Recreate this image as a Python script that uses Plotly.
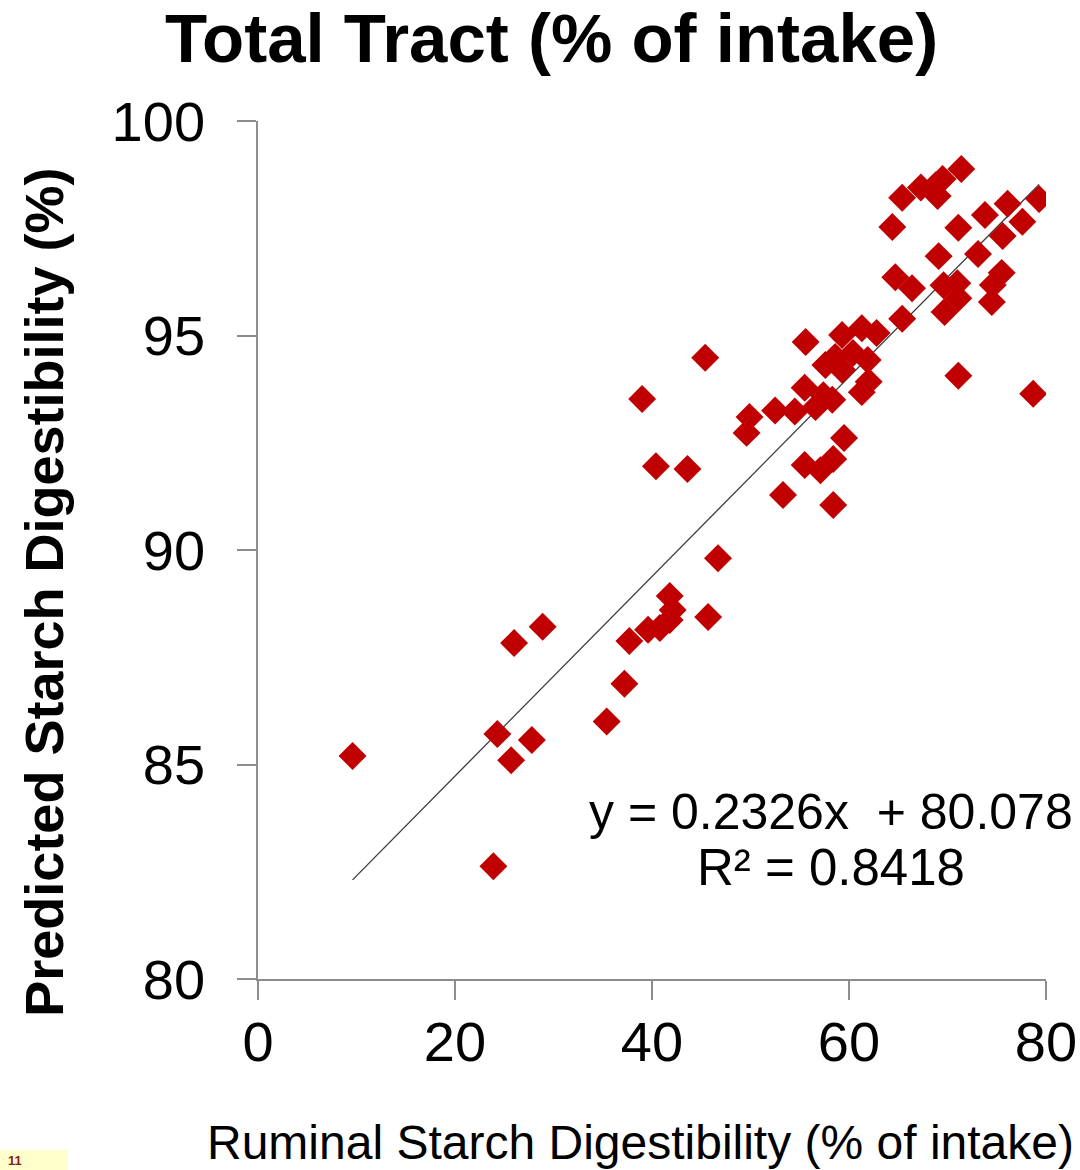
import plotly.graph_objects as go

# Ruminal vs. predicted total-tract starch digestibility (% of intake)
ruminal = [
    9.6, 24.3, 23.9, 25.7, 27.8, 26.0, 28.9, 35.4, 37.2, 37.7,
    39.6, 40.8, 41.8, 42.1, 41.8, 45.7, 46.7, 40.4, 43.6, 39.0,
    45.4, 49.9, 49.6, 52.5, 54.5, 55.5, 56.6, 57.4, 58.3, 55.6,
    57.6, 58.6, 59.3, 60.4, 59.3, 61.3, 62.8, 61.9, 62.0, 61.3,
    59.5, 55.5, 57.1, 58.4, 53.3, 58.4, 65.4, 64.4, 65.4, 67.3,
    68.8, 69.5, 69.0, 71.4, 71.1, 73.8, 76.1, 79.3, 77.6, 75.6,
    69.1, 73.1, 64.7, 66.4, 75.5, 74.6, 74.5, 69.6, 71.0, 71.1,
    69.7, 71.1, 78.7,
]
predicted = [
    85.20, 85.71, 82.63, 85.10, 85.57, 87.83, 88.21, 86.00, 86.88, 87.88,
    88.14, 88.18, 88.37, 88.60, 88.93, 88.44, 89.81, 91.95, 91.89, 93.52,
    94.48, 93.10, 92.73, 93.25, 93.23, 93.78, 93.33, 93.61, 93.50, 94.85,
    94.31, 94.50, 94.20, 94.59, 95.01, 95.17, 95.06, 94.43, 93.92, 93.68,
    92.61, 91.98, 91.86, 92.12, 91.28, 91.05, 95.39, 97.53, 98.21, 98.45,
    98.50, 98.65, 98.25, 98.88, 97.51, 97.81, 98.07, 98.18, 97.65, 97.32,
    96.85, 96.90, 96.36, 96.10, 96.46, 96.18, 95.78, 96.17, 96.22, 95.87,
    95.55, 94.06, 93.64,
]

# Linear trend line as reported
slope = 0.2326
intercept = 80.078
r_squared = 0.8418

x_ticks = [0, 20, 40, 60, 80]
y_ticks = [80, 85, 90, 95, 100]

title_text = "Total Tract (% of intake)"
x_title = "Ruminal Starch Digestibility (% of intake)"
y_title = "Predicted Starch Digestibility (%)"
page_number = "11"

FONT = "Liberation Sans, Arial, sans-serif"
AXIS_GRAY = "#8c8c8c"

x_lo, x_hi = min(ruminal), max(ruminal)
trend_x = [x_lo, x_hi]
trend_y = [slope * v + intercept for v in trend_x]

fig = go.Figure()
fig.add_trace(go.Scatter(
    x=trend_x, y=trend_y, mode="lines",
    line=dict(color="#3a3a3a", width=1.3),
    hoverinfo="skip", showlegend=False,
))
fig.add_trace(go.Scatter(
    x=ruminal, y=predicted, mode="markers",
    marker=dict(symbol="diamond", size=21.5, color="#C00000",
                line=dict(width=0)),
    showlegend=False,
))

axis_common = dict(
    showgrid=False, zeroline=False, showline=True, automargin=False,
    linecolor=AXIS_GRAY, linewidth=1.5,
    ticks="outside", ticklen=19, tickwidth=1.5, tickcolor=AXIS_GRAY,
    tickfont=dict(family=FONT, size=56, color="#000000"),
)

fig.update_xaxes(range=[0, 80], tickvals=x_ticks,
                 ticklabelstandoff=-6, **axis_common)
fig.update_yaxes(range=[80, 100], tickvals=y_ticks,
                 ticklabelstandoff=21, **axis_common)

eq_text = f"y = {slope}x  + {intercept}"
r2_text = f"R² = {r_squared}"

fig.update_layout(
    width=1080, height=1170,
    margin=dict(l=258, r=34, t=121, b=191),
    paper_bgcolor="white", plot_bgcolor="white",
    shapes=[
        # slide-number tab in the lower-left corner
        dict(type="rect", xref="paper", yref="paper",
             x0=-0.3274, x1=-0.2411, y0=-0.2226, y1=-0.1993,
             fillcolor="#FFFFCC", line=dict(width=0), layer="below"),
    ],
    annotations=[
        dict(text=f"<b>{title_text}</b>", xref="paper", yref="paper",
             x=0.372, y=1.096, xanchor="center", yanchor="middle",
             showarrow=False, font=dict(family=FONT, size=69, color="black")),
        dict(text=f"<b>{y_title}</b>", xref="paper", yref="paper",
             x=-0.272, y=0.451, xanchor="center", yanchor="middle",
             textangle=-90, showarrow=False,
             font=dict(family=FONT, size=54, color="black")),
        dict(text=x_title, xref="paper", yref="paper",
             x=0.486, y=-0.191, xanchor="center", yanchor="middle",
             showarrow=False, font=dict(family=FONT, size=48, color="black")),
        dict(text=eq_text, xref="paper", yref="paper",
             x=0.727, y=0.1946, xanchor="center", yanchor="middle",
             showarrow=False, font=dict(family=FONT, size=50, color="black")),
        dict(text=r2_text, xref="paper", yref="paper",
             x=0.727, y=0.1294, xanchor="center", yanchor="middle",
             showarrow=False, font=dict(family=FONT, size=51, color="black")),
        dict(text=f"<b>{page_number}</b>", xref="paper", yref="paper",
             x=-0.320, y=-0.2110, xanchor="left", yanchor="middle",
             showarrow=False, font=dict(family=FONT, size=13, color="#8B1A1A")),
    ],
)

fig.write_html("out.html")
